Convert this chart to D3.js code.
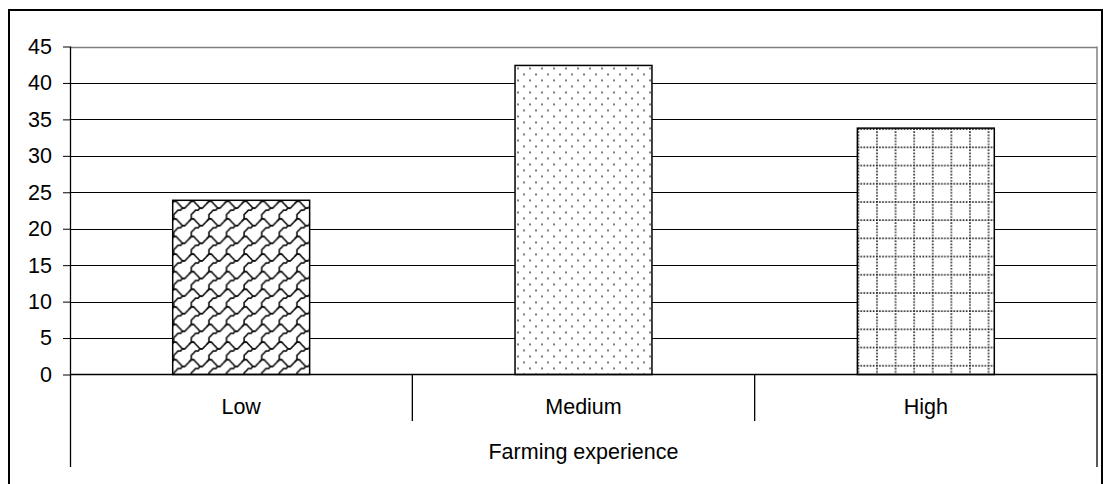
<!DOCTYPE html>
<html>
<head>
<meta charset="utf-8">
<script src="https://cdn.jsdelivr.net/npm/d3@7"></script>
<style>
  html, body { margin: 0; padding: 0; background: #fff; }
  svg { display: block; }
  text { font-family: "Liberation Sans", Arial, sans-serif; fill: #000; }
</style>
</head>
<body>
<svg id="chart" width="1103" height="484"></svg>
<script>
const categories = ["Low", "Medium", "High"];
const values = [23.9, 42.4, 33.8];
const yTicks = [0, 5, 10, 15, 20, 25, 30, 35, 40, 45];
const axisTitle = "Farming experience";

const svg = d3.select("#chart");
const plot = { left: 70, right: 1097, top: 46.5, bottom: 374.5 };
const FS = "21.5px";

const y = d3.scaleLinear().domain([0, 45]).range([plot.bottom, plot.top]);
const x = d3.scaleBand().domain(categories).range([plot.left, plot.right]).padding(0);
const barW = x.bandwidth() * 0.4;
const barX = c => x(c) + (x.bandwidth() - barW) / 2;

const defs = svg.append("defs");

// shingle pattern: smooth strokes through the 8x8 shingle cell layout
function shinglePattern(id, s, ox, oy) {
  const T = 8 * s;
  const p = defs.append("pattern").attr("id", id)
    .attr("patternUnits", "userSpaceOnUse")
    .attr("x", ox).attr("y", oy).attr("width", T).attr("height", T);
  p.append("rect").attr("width", T).attr("height", T).attr("fill", "#fff");
  const a = [[-0.5, 1.5], [0.5, 0.5], [1.5, 0.5], [2.5, 1.5], [3.5, 2.5], [4.5, 3.5], [5.5, 3.5], [6.5, 2.5], [7.5, 1.5], [8.5, 0.5], [9.5, 0.5]];
  const b = [[5.5, 3.5], [4.5, 3.5], [3.5, 4.5], [2.5, 4.5], [1.5, 5.5], [0.5, 6.5], [0.5, 7.5], [0.5, 8.5], [1.5, 8.5]];
  const line = d3.line().x(d => d[0] * s).y(d => d[1] * s).curve(d3.curveCatmullRom);
  [[0, 0], [-T, 0], [T, 0], [0, -T], [0, T], [-T, -T], [T, T], [T, -T], [-T, T]].forEach(([dx, dy]) => {
    [a, b].forEach(pts => {
      p.append("path").attr("d", line(pts)).attr("transform", `translate(${dx},${dy})`)
        .attr("fill", "none").attr("stroke", "#111").attr("stroke-width", 1.6);
    });
  });
}

function dotsPattern(id, ox, oy) {
  const w = 12, h = 12;
  const p = defs.append("pattern").attr("id", id)
    .attr("patternUnits", "userSpaceOnUse")
    .attr("x", ox).attr("y", oy).attr("width", w).attr("height", h);
  p.append("rect").attr("width", w).attr("height", h).attr("fill", "#fff");
  [[3, 3], [9, 9]].forEach(([cx, cy]) => {
    p.append("rect").attr("x", cx - 0.8).attr("y", cy - 0.8)
      .attr("width", 1.6).attr("height", 1.6).attr("fill", "#333");
  });
}

function gridPattern(id, ox, oy) {
  const w = 18.6, h = 18.2;
  const p = defs.append("pattern").attr("id", id)
    .attr("patternUnits", "userSpaceOnUse")
    .attr("x", ox).attr("y", oy).attr("width", w).attr("height", h);
  p.append("rect").attr("width", w).attr("height", h).attr("fill", "#fff");
  p.append("line").attr("x1", 0).attr("x2", w).attr("y1", 1).attr("y2", 1)
    .attr("stroke", "#222").attr("stroke-width", 1.6).attr("stroke-dasharray", "1.6,1.5");
  p.append("line").attr("x1", 1).attr("x2", 1).attr("y1", 0).attr("y2", h)
    .attr("stroke", "#222").attr("stroke-width", 1.6).attr("stroke-dasharray", "1.6,1.5");
}

shinglePattern("pat0", 2.2, barX(categories[0]), y(values[0]));
dotsPattern("pat1", barX(categories[1]), y(values[1]));
gridPattern("pat2", barX(categories[2]), y(values[2]));

// outer border
svg.append("rect").attr("x", 9).attr("y", 10).attr("width", 1093).attr("height", 500)
  .attr("fill", "none").attr("stroke", "#000").attr("stroke-width", 2);

// gridlines
svg.append("g").selectAll("line").data(yTicks.filter(t => t > 0)).join("line")
  .attr("x1", plot.left).attr("x2", plot.right)
  .attr("y1", d => Math.round(y(d)) + 0.5).attr("y2", d => Math.round(y(d)) + 0.5)
  .attr("stroke", d => d === 45 ? "#808080" : "#000").attr("stroke-width", d => d === 45 ? 1.5 : 1);

// right plot border (gray)
svg.append("line").attr("x1", plot.right).attr("x2", plot.right)
  .attr("y1", plot.top).attr("y2", plot.bottom)
  .attr("stroke", "#808080").attr("stroke-width", 1.5);

// bars
svg.append("g").selectAll("rect").data(categories).join("rect")
  .attr("x", d => barX(d)).attr("width", barW)
  .attr("y", (d, i) => y(values[i])).attr("height", (d, i) => plot.bottom - y(values[i]))
  .attr("fill", (d, i) => `url(#pat${i})`)
  .attr("stroke", "#000").attr("stroke-width", 1.5);

// y axis
const yAxis = d3.axisLeft(y).tickValues(yTicks).tickSize(7).tickPadding(11);
const ga = svg.append("g").attr("transform", `translate(${plot.left},0)`).call(yAxis);
ga.select(".domain").remove();
ga.selectAll(".tick line").attr("stroke", "#000");
ga.selectAll(".tick text").style("font-size", FS)
  .style("font-family", '"Liberation Sans", Arial, sans-serif').attr("fill", "#000");
svg.append("line").attr("x1", plot.left + 0.5).attr("x2", plot.left + 0.5)
  .attr("y1", plot.top).attr("y2", 467).attr("stroke", "#000").attr("stroke-width", 1.3);

// zero line
svg.append("line").attr("x1", plot.left).attr("x2", plot.right)
  .attr("y1", plot.bottom).attr("y2", plot.bottom).attr("stroke", "#000").attr("stroke-width", 1.3);

// category separators
const seps = [categories[1], categories[2]].map(c => x(c));
svg.append("g").selectAll("line").data(seps).join("line")
  .attr("x1", d => d).attr("x2", d => d)
  .attr("y1", plot.bottom).attr("y2", 421)
  .attr("stroke", "#000").attr("stroke-width", 1.3);
svg.append("line").attr("x1", plot.right).attr("x2", plot.right)
  .attr("y1", plot.bottom).attr("y2", 467).attr("stroke", "#000").attr("stroke-width", 1.3);

// category labels
svg.append("g").selectAll("text").data(categories).join("text")
  .attr("x", d => x(d) + x.bandwidth() / 2).attr("y", 414)
  .attr("text-anchor", "middle").style("font-size", FS).text(d => d);

svg.append("text").attr("x", (plot.left + plot.right) / 2).attr("y", 459)
  .attr("text-anchor", "middle").style("font-size", FS).text(axisTitle);
</script>
</body>
</html>
